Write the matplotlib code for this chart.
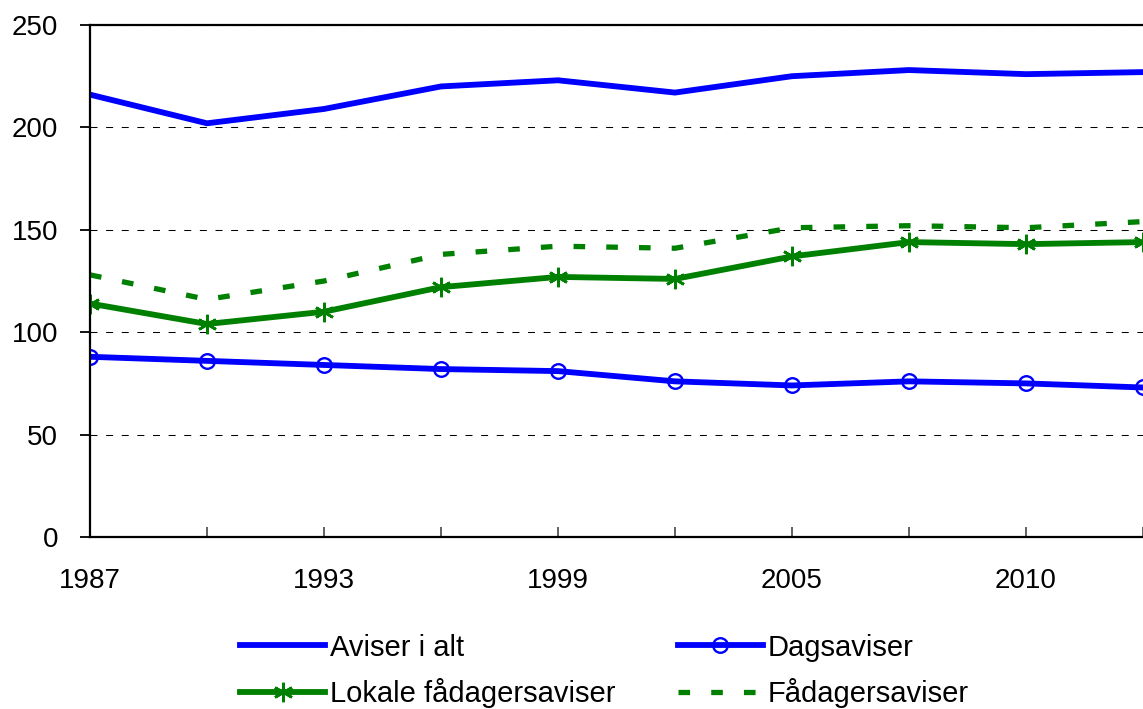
import matplotlib
matplotlib.use('Agg')
import matplotlib.pyplot as plt

plt.rcParams['font.family'] = ['Liberation Sans', 'DejaVu Sans']

# data
years = ['1987', '1990', '1993', '1996', '1999', '2002', '2005', '2008', '2010', '2012']
shown_years = ['1987', '', '1993', '', '1999', '', '2005', '', '2010', '']
aviser_i_alt = [216, 202, 209, 220, 223, 217, 225, 228, 226, 227]
dagsaviser = [88, 86, 84, 82, 81, 76, 74, 76, 75, 73]
lokale_fadager = [114, 104, 110, 122, 127, 126, 137, 144, 143, 144]
fadagersaviser = [128, 116, 125, 138, 142, 141, 151, 152, 151, 154]

blue = '#0000FF'
green = '#008000'
x = list(range(len(years)))

fig = plt.figure(figsize=(11.43, 7.09), dpi=100)
ax = fig.add_axes([90 / 1143, 1 - 537 / 709, 1 - 90 / 1143, 512 / 709])

l1, = ax.plot(x, aviser_i_alt, color=blue, lw=4.2, label='Aviser i alt')
l2, = ax.plot(x, dagsaviser, color=blue, lw=4.2, marker='o', ms=10.5, mfc='none',
              mec=blue, mew=1.7, label='Dagsaviser')
l3, = ax.plot(x, lokale_fadager, color=green, lw=4.2, marker=(6, 2, 0), ms=14,
              mec=green, mew=1.9, label='Lokale fådagersaviser')
l4, = ax.plot(x, fadagersaviser, color=green, lw=3.8, linestyle=(0, (2.2, 4.0)),
              dash_capstyle='butt', label='Fådagersaviser')

ax.set_ylim(0, 250)
ax.set_xlim(0, (1143 - 90) / 117.4)
ax.set_yticks(range(0, 251, 50))
ax.set_xticks(x, shown_years)
ax.yaxis.grid(True, color='black', linestyle=(0, (6.7, 8.3)), lw=0.75)
ax.set_axisbelow(True)

for side in ['left', 'bottom', 'top']:
    ax.spines[side].set_linewidth(1.6)
    ax.spines[side].set_color('black')
ax.spines['right'].set_visible(False)

ax.tick_params(axis='y', direction='out', length=7, width=1.3, pad=16, labelsize=20)
ax.tick_params(axis='x', direction='in', length=7, width=1.3, color='#555555',
               pad=22, labelsize=20)

# row-wise order as in the reference: matplotlib fills legend columns first
fig.legend(handles=[l1, l3, l2, l4], loc='center', bbox_to_anchor=(0.529, 0.054),
           ncol=2, frameon=False, fontsize=21, handlelength=2.9, handletextpad=0.17,
           columnspacing=2.15, labelspacing=0.55, borderpad=0)

fig.savefig('out.png', dpi=100)
